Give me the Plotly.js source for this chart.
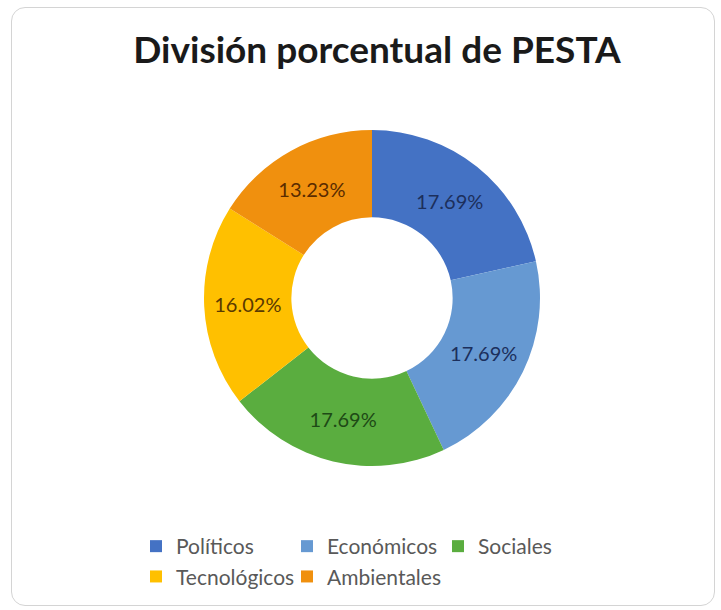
<!DOCTYPE html>
<html>
<head>
<meta charset="utf-8">
<script src="https://cdn.plot.ly/plotly-3.0.1.min.js"></script>
<style>
  html, body { margin: 0; padding: 0; background: #ffffff; }
  #wrap { position: relative; width: 721px; height: 610px; }
  #chart { position: absolute; left: 0; top: 0; width: 721px; height: 610px; }
  #frame { position: absolute; left: 11px; top: 7px; width: 702px; height: 597px;
           border: 1px solid #d4d4d4; border-radius: 14px; pointer-events: none; }
</style>
</head>
<body>
<div id="wrap">
  <div id="chart"></div>
  <div id="frame"></div>
</div>
<script>
const categories = ["Políticos", "Económicos", "Sociales", "Tecnológicos", "Ambientales"];
const values = [17.69, 17.69, 17.69, 16.02, 13.23];
const colors = ["#4472C4", "#6699D2", "#5AAD3F", "#FFC000", "#F0900E"];
const labelColors = ["#1c2f5c", "#1c2f5c", "#1e4a16", "#5a3a00", "#5a2c00"];

const W = 721, H = 610;
const M = { l: 100, r: 100, t: 0, b: 100 };
const PW = W - M.l - M.r, PH = H - M.t - M.b;
const cx = 372, cy = 298, r = 168;

const trace = {
  type: "pie",
  labels: categories,
  values: values,
  hole: 0.48,
  sort: false,
  direction: "clockwise",
  rotation: 0,
  marker: { colors: colors, line: { width: 0 } },
  texttemplate: "%{value:.2f}%",
  textposition: "inside",
  insidetextorientation: "horizontal",
  textfont: { family: "Lato, sans-serif", size: 20, color: labelColors },
  hoverinfo: "label+value",
  domain: {
    x: [(cx - r - M.l) / PW, (cx + r - M.l) / PW],
    y: [1 - (cy + r - M.t) / PH, 1 - (cy - r - M.t) / PH]
  }
};

const layout = {
  width: W,
  height: H,
  margin: M,
  paper_bgcolor: "rgba(0,0,0,0)",
  plot_bgcolor: "rgba(0,0,0,0)",
  title: {
    text: "<b>División porcentual de PESTA</b>",
    font: { family: "Lato, sans-serif", size: 37, color: "#1a1a1a" },
    x: 377 / W,
    xanchor: "center",
    y: 1 - 50 / H,
    yanchor: "middle",
    xref: "container",
    yref: "container"
  },
  showlegend: true,
  legend: {
    orientation: "h",
    xref: "container",
    yref: "container",
    x: 136 / W,
    xanchor: "left",
    y: 1 - 526 / H,
    yanchor: "top",
    entrywidth: 106,
    itemwidth: 30,
    traceorder: "normal",
    font: { family: "Lato, sans-serif", size: 21, color: "#595959" },
    bgcolor: "rgba(0,0,0,0)"
  }
};

Plotly.newPlot("chart", [trace], layout, { displayModeBar: false, staticPlot: true });
</script>
</body>
</html>
